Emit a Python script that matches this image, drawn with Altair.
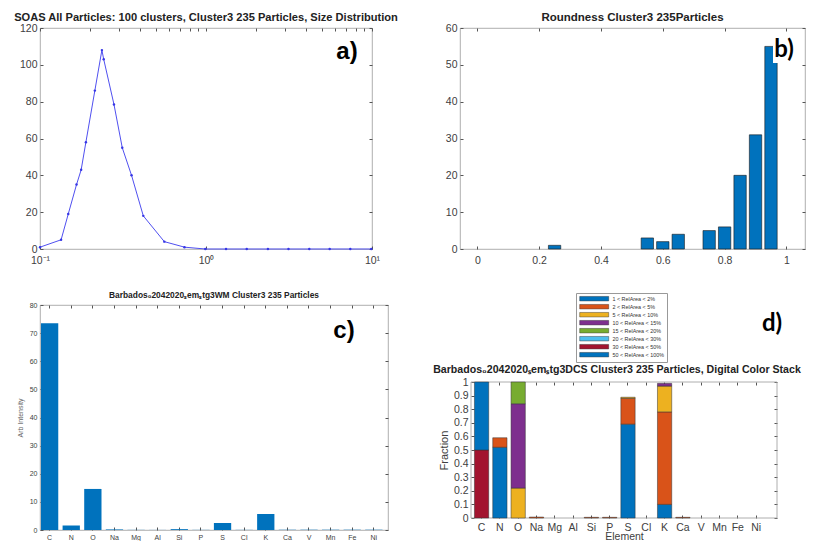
import altair as alt
import pandas as pd

# ---------------- data ----------------
# a) size distribution
size_x = [0.1, 0.134, 0.148, 0.166, 0.177, 0.189, 0.214, 0.236, 0.242, 0.279, 0.313,
          0.356, 0.419, 0.561, 0.742, 0.99, 1.32, 1.76, 2.36, 3.14, 4.19, 5.56, 7.4, 9.9]
size_n = [1, 5, 19, 35, 43, 58, 86, 108, 103, 78.5, 55,
          40, 18, 4, 1, 0, 0, 0, 0, 0, 0, 0, 0, 0]

# b) roundness histogram
round_centers = [0.25, 0.55, 0.60, 0.65, 0.75, 0.80, 0.85, 0.90, 0.95]
round_counts = [1, 3, 2, 4, 5, 6, 20, 31, 55]
round_binwidth = 0.05

# c) mean spectrum
elements = ["C", "N", "O", "Na", "Mg", "Al", "Si", "P", "S", "Cl", "K", "Ca", "V", "Mn", "Fe", "Ni"]
intensity = [73.5, 1.6, 14.6, 0.2, 0.05, 0.03, 0.3, 0.05, 2.5, 0.05, 5.7, 0.05, 0.1, 0.1, 0.1, 0.1]

# d) digital colour stack
relarea_labels = ["1 < RelArea < 2%", "2 < RelArea < 5%", "5 < RelArea < 10%", "10 < RelArea < 15%",
                  "15 < RelArea < 20%", "20 < RelArea < 30%", "30 < RelArea < 50%", "50 < RelArea < 100%"]
relarea_colors = ["#0072BD", "#D95319", "#EDB120", "#7E2F8E", "#77AC30", "#4DBEEE", "#A2142F", "#0072BD"]
stack_element = ["C", "C", "N", "N", "O", "O", "O", "Na", "Si", "P", "S", "S", "S",
                 "K", "K", "K", "K", "Ca"]
stack_class = [7, 8, 1, 2, 3, 4, 5, 2, 2, 2, 1, 2, 3,
               1, 2, 3, 4, 2]
stack_value = [0.50, 0.50, 0.52, 0.07, 0.22, 0.62, 0.16, 0.007, 0.005, 0.005, 0.69, 0.19, 0.008,
               0.10, 0.68, 0.19, 0.02, 0.005]

# titles
title_a = "SOAS All Particles: 100 clusters, Cluster3 235 Particles, Size Distribution"
title_b = "Roundness Cluster3 235Particles"
title_c = "Barbados₀2042020ₛemₛtg3WM Cluster3 235 Particles"
title_d = "Barbados₀2042020ₛemₛtg3DCS Cluster3 235 Particles, Digital Color Stack"

# ---------------- style ----------------
FONT = "Liberation Sans"
LAB = "#404040"
TICK = "#555555"
BOX = "#9a9a9a"
BLUE = "#0072BD"


def axis_main(size, offset=-3, pad=3, **kw):
    return alt.Axis(domain=False, grid=False, offset=offset, tickSize=3, tickColor=TICK,
                    labelColor=LAB, labelFont=FONT, labelFontSize=size, labelPadding=pad,
                    labelAngle=0, labelFlush=False, **kw)


def axis_mirror(orient, offset=-3, **kw):
    return alt.Axis(orient=orient, labels=False, domain=False, grid=False, offset=offset,
                    tickSize=3, tickColor=TICK, title=None, **kw)


def label(text, x, y, font, size, weight="bold", color="black"):
    return alt.Chart(pd.DataFrame({"t": [text]})).mark_text(
        font=font, fontSize=size, fontWeight=weight, color=color,
        align="center", baseline="middle").encode(text="t:N", x=alt.value(x), y=alt.value(y))


# ---------------- panel a ----------------
dfa = pd.DataFrame({"d": size_x, "n": size_n})
xa = alt.Scale(type="log", domain=[0.1, 10], nice=False)
ya = alt.Scale(domain=[0, 120], nice=False)
a_line = alt.Chart(dfa).mark_line(
    color="#5050f0", strokeWidth=1,
    point=alt.OverlayMarkDef(filled=True, size=6, color="#3535e6")).encode(
    x=alt.X("d:Q", scale=xa, axis=axis_main(
        10.5, pad=6, values=[0.1, 1, 10], title=None,
        labelExpr="datum.value < 0.5 ? '10⁻¹' : (datum.value < 5 ? '10⁰' : '10¹')")),
    y=alt.Y("n:Q", scale=ya, axis=axis_main(10.5, values=list(range(0, 121, 20)), title=None)))
a_mirror = alt.Chart(dfa).mark_point(opacity=0).encode(
    x=alt.X("d:Q", scale=xa, axis=axis_mirror("top", values=[0.1, 0.2, 0.3, 0.4, 0.5, 0.6, 0.7, 0.8, 0.9,
                                                             1, 2, 3, 4, 5, 6, 7, 8, 9, 10])),
    y=alt.Y("n:Q", scale=ya, axis=axis_mirror("right", values=list(range(0, 121, 20)))))
panel_a = alt.layer(a_line, a_mirror, label("a)", 307, 24, FONT, 24)).resolve_axis(
    x="independent", y="independent").properties(
    width=332, height=221,
    title=alt.TitleParams(title_a, font=FONT, fontSize=11.1, fontWeight="bold", color="#222", offset=0))

# ---------------- panel b ----------------
dfb = pd.DataFrame({"c": round_centers, "n": round_counts})
dfb["lo"] = dfb["c"] - 0.4 * round_binwidth
dfb["hi"] = dfb["c"] + 0.4 * round_binwidth
xb = alt.Scale(domain=[-0.056, 1.06], nice=False)
yb = alt.Scale(domain=[0, 60], nice=False)
b_bars = alt.Chart(dfb).mark_bar(color=BLUE, stroke="#1a1a1a", strokeWidth=0.6).encode(
    x=alt.X("lo:Q", scale=xb, axis=axis_main(10.5, pad=6, values=[0, 0.2, 0.4, 0.6, 0.8, 1],
                                             format="~g", title=None)),
    x2="hi:Q",
    y=alt.Y("n:Q", scale=yb, axis=axis_main(10.5, values=list(range(0, 61, 10)), title=None)),
    y2=alt.datum(0))
b_mirror = alt.Chart(dfb).mark_point(opacity=0).encode(
    x=alt.X("c:Q", scale=xb, axis=axis_mirror("top", values=[0, 0.2, 0.4, 0.6, 0.8, 1])),
    y=alt.Y("n:Q", scale=yb, axis=axis_mirror("right", values=list(range(0, 61, 10)))))
b_box = alt.Chart(pd.DataFrame({"k": [1]})).mark_rect(color="white").encode(
    x=alt.value(313), x2=alt.value(334), y=alt.value(10), y2=alt.value(35))
panel_b = alt.layer(b_bars, b_mirror, b_box, label("b)", 324, 22, "Lato", 24)).resolve_axis(
    x="independent", y="independent").properties(
    width=345, height=221,
    title=alt.TitleParams(title_b, font=FONT, fontSize=11.5, fontWeight="bold", color="#222", offset=0))

# ---------------- panel c ----------------
dfc = pd.DataFrame({"el": elements, "v": intensity})
xc = alt.Scale(domain=elements, paddingInner=0.2, paddingOuter=0.15, align=0.15)
yc = alt.Scale(domain=[0, 80], nice=False)
c_bars = alt.Chart(dfc).mark_bar(color=BLUE).encode(
    x=alt.X("el:N", sort=elements, scale=xc, axis=axis_main(7, title=None)),
    y=alt.Y("v:Q", scale=yc, axis=axis_main(7, values=list(range(0, 81, 10)), title="Arb Intensity",
                                            titleFont=FONT, titleFontSize=7, titleFontWeight="normal",
                                            titleColor="#666", titlePadding=6)))
c_mirror = alt.Chart(dfc).mark_point(opacity=0).encode(
    x=alt.X("el:N", sort=elements, scale=xc, axis=axis_mirror("top")),
    y=alt.Y("v:Q", scale=yc, axis=axis_mirror("right", values=list(range(0, 81, 10)))))
panel_c = alt.layer(c_bars, c_mirror, label("c)", 304, 26, FONT, 24)).resolve_axis(
    x="independent", y="independent").properties(
    width=348, height=225,
    title=alt.TitleParams(title_c, font=FONT, fontSize=8.4, fontWeight="bold", color="#222", offset=2))

# ---------------- panel d ----------------
# the panel shares its top with panel c; its plot box occupies y 77..213 of a 225-high view
D_W, D_H, D_TOP, D_BOT = 306, 225, 77, 213
dfd = pd.DataFrame({"el": stack_element, "cls": [relarea_labels[k - 1] for k in stack_class],
                    "ord": stack_class, "v": stack_value})
xd = alt.Scale(domain=elements, paddingInner=0.22, paddingOuter=0.47, align=0.2)
yd = alt.Scale(domain=[0, 1], nice=False, range=[D_BOT, D_TOP])
d_bars = alt.Chart(dfd).mark_bar(stroke="#333333", strokeWidth=0.5).encode(
    x=alt.X("el:N", sort=elements, scale=xd, axis=axis_main(
        10.5, offset=-(3 + D_H - D_BOT), pad=4, title="Element", titleFont=FONT, titleFontSize=10.5,
        titleFontWeight="normal", titleColor=LAB, titlePadding=-1)),
    y=alt.Y("v:Q", stack="zero", scale=yd, axis=axis_main(
        10.5, values=[i / 10 for i in range(11)], format="~g", title="Fraction",
        titleFont=FONT, titleFontSize=11, titleFontWeight="normal", titleColor=LAB, titlePadding=4)),
    color=alt.Color("cls:N", scale=alt.Scale(domain=relarea_labels, range=relarea_colors),
                    legend=alt.Legend(orient="none", legendX=105, legendY=-12, title=None,
                                      symbolType="M-1,-1.125H13.5V1.125H-1Z", symbolSize=16,
                                      labelOffset=28, labelFont=FONT, labelFontSize=5.4,
                                      labelColor="#333", strokeColor="#999", padding=3,
                                      rowPadding=0, symbolStrokeColor="#222",
                                      symbolStrokeWidth=0.4, fillColor="white", symbolOpacity=1)),
    order=alt.Order("ord:Q"))
d_mirror = alt.Chart(dfd).mark_point(opacity=0).encode(
    x=alt.X("el:N", sort=elements, scale=xd, axis=axis_mirror("top", offset=-(3 + D_TOP))),
    y=alt.Y("v:Q", stack=None, scale=yd, axis=axis_mirror("right", values=[i / 10 for i in range(11)])))
d_box = alt.Chart(pd.DataFrame({"k": [1]})).mark_rect(fillOpacity=0, stroke=BOX, strokeWidth=0.8).encode(
    x=alt.value(0), x2=alt.value(D_W), y=alt.value(D_TOP), y2=alt.value(D_BOT))
panel_d = alt.layer(d_box, d_bars, d_mirror,
                    label(title_d, 146, 65, FONT, 10.6, color="#222"),
                    label("d)", 301, 19, "Lato", 24)).resolve_axis(
    x="independent", y="independent").properties(
    width=D_W, height=D_H, view=alt.ViewBackground(strokeOpacity=0))

row1 = alt.hconcat(panel_a, panel_b, spacing=45)
row2 = alt.hconcat(panel_c, panel_d, spacing=44).resolve_scale(color="independent").resolve_legend(
    color="independent")
chart = alt.vconcat(row1, row2, spacing=24).resolve_scale(color="independent").resolve_legend(
    color="independent").properties(
    padding={"left": 5, "top": 3, "right": 0, "bottom": 0}
).configure_view(stroke=BOX, strokeWidth=0.8)

chart.save("out.html", embed_options={"renderer": "svg", "actions": False})
